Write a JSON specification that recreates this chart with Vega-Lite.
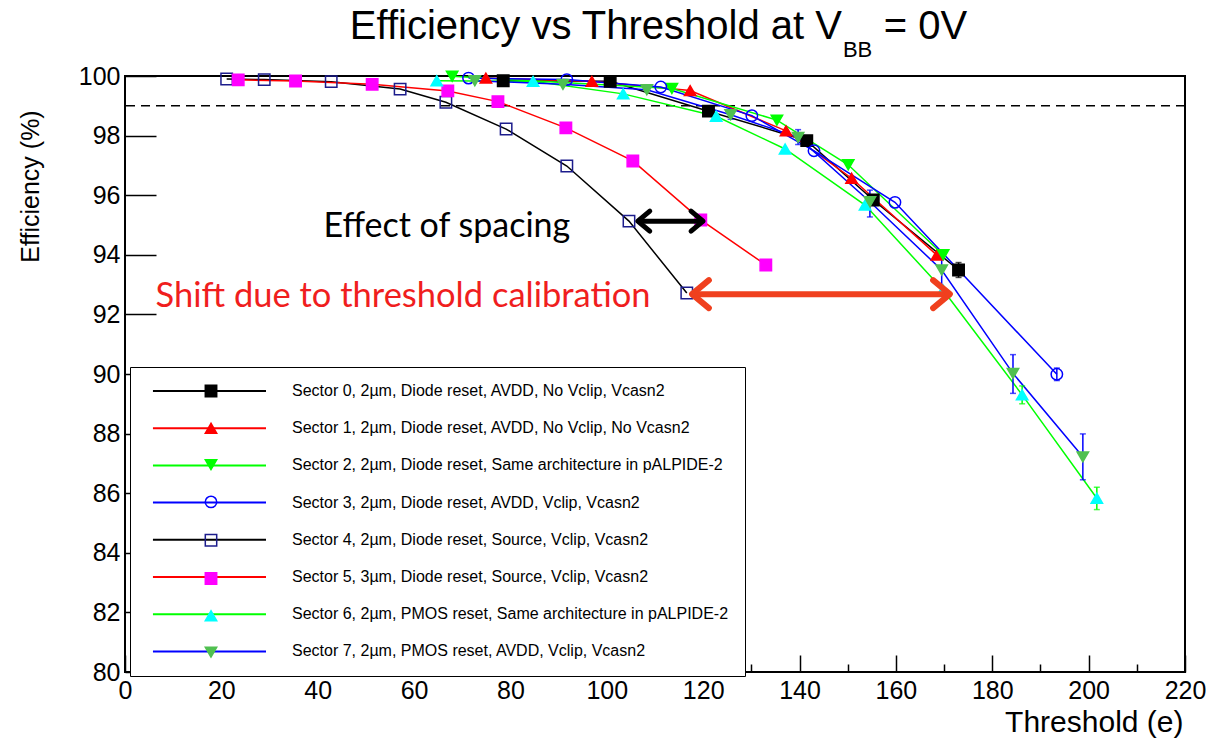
{
  "$schema": "https://vega.github.io/schema/vega-lite/v6.json",
  "width": 1060,
  "height": 596,
  "autosize": {"type": "none"},
  "padding": {"left": 125, "top": 76, "right": 21, "bottom": 68},
  "background": "white",
  "config": {
    "view": {"stroke": "black", "strokeWidth": 2},
    "font": "Liberation Sans"
  },
  "datasets": {
    "names": [
      {"s": 0, "name": "Sector 0, 2µm, Diode reset, AVDD, No Vclip, Vcasn2"},
      {"s": 1, "name": "Sector 1, 2µm, Diode reset, AVDD, No Vclip, No Vcasn2"},
      {"s": 2, "name": "Sector 2, 2µm, Diode reset, Same architecture in pALPIDE-2"},
      {"s": 3, "name": "Sector 3, 2µm, Diode reset, AVDD, Vclip, Vcasn2"},
      {"s": 4, "name": "Sector 4, 2µm, Diode reset, Source, Vclip, Vcasn2"},
      {"s": 5, "name": "Sector 5, 3µm, Diode reset, Source, Vclip, Vcasn2"},
      {"s": 6, "name": "Sector 6, 2µm, PMOS reset, Same architecture in pALPIDE-2"},
      {"s": 7, "name": "Sector 7, 2µm, PMOS reset, AVDD, Vclip, Vcasn2"}
    ],
    "pts": [
      {"s": 0, "x": 78.5, "y": 99.84},
      {"s": 0, "x": 100.7, "y": 99.82},
      {"s": 0, "x": 121.1, "y": 98.82},
      {"s": 0, "x": 141.5, "y": 97.83},
      {"s": 0, "x": 155.3, "y": 95.84},
      {"s": 0, "x": 173.0, "y": 93.49, "lo": 93.24, "hi": 93.74},
      {"s": 1, "x": 74.9, "y": 99.93},
      {"s": 1, "x": 96.9, "y": 99.82},
      {"s": 1, "x": 117.3, "y": 99.51},
      {"s": 1, "x": 137.2, "y": 98.16},
      {"s": 1, "x": 150.8, "y": 96.57},
      {"s": 1, "x": 168.5, "y": 93.99},
      {"s": 2, "x": 67.9, "y": 99.99},
      {"s": 2, "x": 113.5, "y": 99.58},
      {"s": 2, "x": 135.3, "y": 98.52},
      {"s": 2, "x": 150.1, "y": 97.02},
      {"s": 2, "x": 169.8, "y": 94.0},
      {"s": 3, "x": 71.3, "y": 99.93},
      {"s": 3, "x": 91.7, "y": 99.88},
      {"s": 3, "x": 111.2, "y": 99.63},
      {"s": 3, "x": 130.1, "y": 98.67},
      {"s": 3, "x": 143.0, "y": 97.49},
      {"s": 3, "x": 159.8, "y": 95.76},
      {"s": 3, "x": 193.4, "y": 89.99, "lo": 89.78, "hi": 90.2},
      {"s": 4, "x": 21.1, "y": 99.9},
      {"s": 4, "x": 28.9, "y": 99.88},
      {"s": 4, "x": 42.8, "y": 99.81},
      {"s": 4, "x": 57.1, "y": 99.56},
      {"s": 4, "x": 66.6, "y": 99.12},
      {"s": 4, "x": 79.1, "y": 98.22},
      {"s": 4, "x": 91.7, "y": 96.98},
      {"s": 4, "x": 104.6, "y": 95.13},
      {"s": 4, "x": 116.6, "y": 92.72},
      {"s": 5, "x": 23.5, "y": 99.87},
      {"s": 5, "x": 35.4, "y": 99.83},
      {"s": 5, "x": 51.3, "y": 99.72},
      {"s": 5, "x": 67.0, "y": 99.5},
      {"s": 5, "x": 77.4, "y": 99.14},
      {"s": 5, "x": 91.5, "y": 98.26},
      {"s": 5, "x": 105.4, "y": 97.15},
      {"s": 5, "x": 119.5, "y": 95.17},
      {"s": 5, "x": 133.0, "y": 93.66, "lo": 93.54, "hi": 93.78},
      {"s": 6, "x": 64.7, "y": 99.84},
      {"s": 6, "x": 84.7, "y": 99.82},
      {"s": 6, "x": 103.4, "y": 99.4},
      {"s": 6, "x": 122.7, "y": 98.65},
      {"s": 6, "x": 137.0, "y": 97.55},
      {"s": 6, "x": 153.6, "y": 95.67},
      {"s": 6, "x": 169.8, "y": 92.82},
      {"s": 6, "x": 186.2, "y": 89.3, "lo": 89.0, "hi": 89.6},
      {"s": 6, "x": 201.7, "y": 85.83, "lo": 85.45, "hi": 86.2},
      {"s": 7, "x": 72.6, "y": 99.84},
      {"s": 7, "x": 90.9, "y": 99.72},
      {"s": 7, "x": 108.3, "y": 99.54},
      {"s": 7, "x": 125.7, "y": 98.7, "lo": 98.55, "hi": 98.85},
      {"s": 7, "x": 139.7, "y": 97.94, "lo": 97.7, "hi": 98.2},
      {"s": 7, "x": 154.6, "y": 95.78, "lo": 95.27, "hi": 96.17},
      {"s": 7, "x": 169.5, "y": 93.49, "lo": 92.92, "hi": 94.06},
      {"s": 7, "x": 184.3, "y": 90.02, "lo": 89.35, "hi": 90.65},
      {"s": 7, "x": 198.8, "y": 87.22, "lo": 86.45, "hi": 87.99}
    ]
  },
  "data": {"name": "pts"},
  "layer": [
    {
      "data": {"values": [{}]},
      "mark": {"type": "rule", "strokeDash": [9, 6], "strokeWidth": 1.5, "color": "black"},
      "encoding": {"y": {"datum": 99, "type": "quantitative"}}
    },
    {
      "transform": [{"lookup": "s", "from": {"data": {"name": "names"}, "key": "s", "fields": ["name"]}}],
      "mark": {"type": "line", "strokeWidth": 1.5},
      "encoding": {
        "x": {
          "field": "x", "type": "quantitative",
          "scale": {"domain": [0, 220], "nice": false, "zero": false},
          "axis": {
            "values": [0,5,10,15,20,25,30,35,40,45,50,55,60,65,70,75,80,85,90,95,100,105,110,115,120,125,130,135,140,145,150,155,160,165,170,175,180,185,190,195,200,205,210,215,220],
            "labelExpr": "datum.value % 20 === 0 ? datum.label : ''",
            "tickSize": {"condition": {"test": "datum.value % 20 === 0", "value": -17}, "value": -8},
            "tickColor": "black", "tickWidth": 1.5,
            "domain": false, "grid": false,
            "labelFontSize": 25, "labelColor": "black", "labelPadding": 23,
            "labelFlush": false, "labelOverlap": false, "labelBaseline": "top",
            "title": "Threshold (e)", "titleFontSize": 30, "titleFontWeight": "normal", "titleColor": "black",
            "titleX": 1058, "titleY": 50, "titleAlign": "right", "titleBaseline": "middle"
          }
        },
        "y": {
          "field": "y", "type": "quantitative",
          "scale": {"domain": [80, 100], "nice": false, "zero": false},
          "axis": {
            "values": [80,80.5,81,81.5,82,82.5,83,83.5,84,84.5,85,85.5,86,86.5,87,87.5,88,88.5,89,89.5,90,90.5,91,91.5,92,92.5,93,93.5,94,94.5,95,95.5,96,96.5,97,97.5,98,98.5,99,99.5,100],
            "labelExpr": "datum.value % 2 === 0 ? datum.label : ''",
            "tickSize": {"condition": {"test": "datum.value % 2 === 0", "value": -31}, "value": -16},
            "tickColor": "black", "tickWidth": 1.5,
            "domain": false, "grid": false,
            "labelFontSize": 25, "labelColor": "black", "labelPadding": 36,
            "labelFlush": false, "labelOverlap": false,
            "title": "Efficiency (%)", "titleFontSize": 25, "titleFontWeight": "normal", "titleColor": "black",
            "titleX": -95, "titleY": 110, "titleAngle": 270, "titleAlign": "center", "titleBaseline": "middle"
          }
        },
        "color": {
          "field": "name", "type": "nominal",
          "scale": {
            "domain": [
              "Sector 0, 2µm, Diode reset, AVDD, No Vclip, Vcasn2",
              "Sector 1, 2µm, Diode reset, AVDD, No Vclip, No Vcasn2",
              "Sector 2, 2µm, Diode reset, Same architecture in pALPIDE-2",
              "Sector 3, 2µm, Diode reset, AVDD, Vclip, Vcasn2",
              "Sector 4, 2µm, Diode reset, Source, Vclip, Vcasn2",
              "Sector 5, 3µm, Diode reset, Source, Vclip, Vcasn2",
              "Sector 6, 2µm, PMOS reset, Same architecture in pALPIDE-2",
              "Sector 7, 2µm, PMOS reset, AVDD, Vclip, Vcasn2"
            ],
            "range": ["black", "red", "#00ff00", "blue", "black", "red", "#00ff00", "blue"]
          },
          "legend": {
            "orient": "none", "legendX": 5, "legendY": 291,
            "title": null, "padding": 16, "strokeColor": "black", "fillColor": "white",
            "symbolType": "M-0.15,0H16", "symbolSize": 196, "symbolStrokeWidth": 2,
            "labelFontSize": 16, "labelFont": "Liberation Sans", "labelColor": "black",
            "labelOffset": 130, "labelLimit": 700, "rowPadding": 21.2, "zindex": 1
          }
        }
      }
    },
    {
      "transform": [
        {"lookup": "s", "from": {"data": {"name": "names"}, "key": "s", "fields": ["name"]}},
        {"filter": "isValid(datum.lo)"}
      ],
      "mark": {"type": "errorbar", "ticks": {"size": 6}, "thickness": 1.5},
      "encoding": {
        "x": {"field": "x", "type": "quantitative"},
        "y": {"field": "lo", "type": "quantitative", "title": "Efficiency (%)"},
        "y2": {"field": "hi"},
        "color": {"field": "name", "type": "nominal", "legend": null}
      }
    },
    {
      "mark": {"type": "point", "size": 130, "strokeWidth": 1.5, "opacity": 1},
      "encoding": {
        "x": {"field": "x", "type": "quantitative"},
        "y": {"field": "y", "type": "quantitative"},
        "shape": {
          "field": "s", "type": "nominal",
          "scale": {"domain": [0,1,2,3,4,5,6,7], "range": ["square", "triangle-up", "triangle-down", "circle", "square", "square", "triangle-up", "triangle-down"]},
          "legend": {
            "orient": "none", "legendX": 78, "legendY": 307,
            "title": null, "padding": 0, "symbolSize": 130, "symbolStrokeWidth": 1.5,
            "labelFontSize": 16, "labelOpacity": 0, "rowPadding": 20.3, "zindex": 2
          }
        },
        "fill": {
          "field": "s", "type": "nominal",
          "scale": {"domain": [0,1,2,3,4,5,6,7], "range": ["black", "red", "#00ff00", "transparent", "transparent", "#ff00ff", "#00ffff", "#50c050"]}
        },
        "stroke": {
          "field": "s", "type": "nominal",
          "scale": {"domain": [0,1,2,3,4,5,6,7], "range": ["black", "red", "#00ff00", "blue", "#1c1c8c", "#ff00ff", "#00ffff", "#50c050"]}
        }
      }
    },
    {
      "data": {"values": [{}]},
      "mark": {"type": "text", "text": "Effect of spacing", "font": "Lato", "fontSize": 34, "color": "black", "align": "center", "baseline": "middle"},
      "encoding": {"x": {"datum": 66.8}, "y": {"datum": 94.93}}
    },
    {
      "data": {"values": [{}]},
      "mark": {"type": "text", "text": "Shift due to threshold calibration", "font": "Lato", "fontSize": 34.5, "color": "#f01e1e", "align": "center", "baseline": "middle"},
      "encoding": {"x": {"datum": 57.7}, "y": {"datum": 92.58}}
    },
    {
      "data": {"values": [{}]},
      "mark": {"type": "rule", "color": "black", "strokeWidth": 5, "strokeCap": "round"},
      "encoding": {"x": {"datum": 106.8}, "x2": {"datum": 119.7}, "y": {"datum": 95.13}}
    },
    {
      "data": {"values": [{}]},
      "mark": {"type": "point", "shape": "M0.2,-1L-1,0L0.2,1", "size": 400, "filled": false, "color": "black", "strokeWidth": 5, "strokeCap": "round", "strokeJoin": "round", "opacity": 1},
      "encoding": {"x": {"datum": 108.5}, "y": {"datum": 95.13}}
    },
    {
      "data": {"values": [{}]},
      "mark": {"type": "point", "shape": "M-0.2,-1L1,0L-0.2,1", "size": 400, "filled": false, "color": "black", "strokeWidth": 5, "strokeCap": "round", "strokeJoin": "round", "opacity": 1},
      "encoding": {"x": {"datum": 117.9}, "y": {"datum": 95.13}}
    },
    {
      "data": {"values": [{}]},
      "mark": {"type": "rule", "color": "#f0401e", "strokeWidth": 6, "strokeCap": "round"},
      "encoding": {"x": {"datum": 117.8}, "x2": {"datum": 171.0}, "y": {"datum": 92.68}}
    },
    {
      "data": {"values": [{}]},
      "mark": {"type": "point", "shape": "M0.2,-1L-1,0L0.2,1", "size": 784, "filled": false, "color": "#f0401e", "strokeWidth": 6, "strokeCap": "round", "strokeJoin": "round", "opacity": 1},
      "encoding": {"x": {"datum": 120.6}, "y": {"datum": 92.68}}
    },
    {
      "data": {"values": [{}]},
      "mark": {"type": "point", "shape": "M-0.2,-1L1,0L-0.2,1", "size": 784, "filled": false, "color": "#f0401e", "strokeWidth": 6, "strokeCap": "round", "strokeJoin": "round", "opacity": 1},
      "encoding": {"x": {"datum": 168.3}, "y": {"datum": 92.68}}
    },
    {
      "data": {"values": [{}]},
      "mark": {"type": "text", "text": "Efficiency vs Threshold at V", "font": "Liberation Sans", "fontSize": 40, "color": "black", "align": "right", "baseline": "alphabetic"},
      "encoding": {"x": {"datum": 148.8}, "y": {"datum": 101.24}}
    },
    {
      "data": {"values": [{}]},
      "mark": {"type": "text", "text": "BB", "font": "Liberation Sans", "fontSize": 22, "color": "black", "align": "left", "baseline": "alphabetic"},
      "encoding": {"x": {"datum": 149.0}, "y": {"datum": 100.64}}
    },
    {
      "data": {"values": [{}]},
      "mark": {"type": "text", "text": "= 0V", "font": "Liberation Sans", "fontSize": 40, "color": "black", "align": "left", "baseline": "alphabetic"},
      "encoding": {"x": {"datum": 157.5}, "y": {"datum": 101.24}}
    }
  ]
}
